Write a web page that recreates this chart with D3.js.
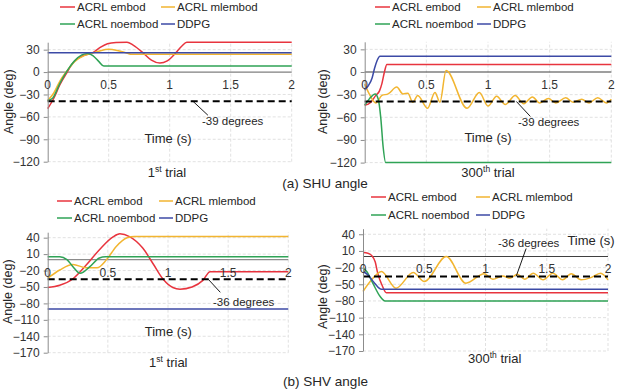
<!DOCTYPE html>
<meta charset="utf-8">
<style>
  body { margin: 0; background: #fff; }
  text { font-family: "Liberation Sans", Arial, sans-serif; fill: #262626; }
  .grid line { stroke: #d9d9d9; stroke-dasharray: 3,2; stroke-width: 0.8; }
  .yaxis path, .yaxis line { stroke: #8c8c8c; }
  .yaxis text { font-size: 12px; fill: #333; }
  .xlab { font-size: 12px; fill: #333; }
  .legend text { font-size: 11.5px; }
  .series { fill: none; stroke-width: 1.5; }
</style>
<body>
<script src="https://d3js.org/d3.v7.min.js"></script>
<script>
// series names / colours
var names  = ["ACRL embod", "ACRL mlembod", "ACRL noembod", "DDPG"];
var colors = ["#e8343e", "#f2b530", "#2fa356", "#3c4aa6"];

var xTicks   = [0, 0.5, 1, 1.5, 2];
var shuTicks = [-120, -90, -60, -30, 0, 30];
var shvTicks = [-170, -140, -110, -80, -50, -20, 10, 40];

// (a) SHU angle, 1st trial  [time, deg]
var shu1Embod   = [[0,-49],[0.05,-35],[0.1,-17],[0.16,0],[0.21,13],[0.29,22],[0.37,26],[0.43,33],[0.49,38],[0.56,39.6],[0.65,40],[0.7,36],[0.78,26],[0.85,16],[0.92,12],[0.98,15],[1.04,24],[1.1,35],[1.14,40],[2,40]];
var shu1Mlembod = [[0,-38],[0.05,-28],[0.1,-12],[0.16,2],[0.22,14],[0.3,22],[0.36,25],[0.42,28],[0.5,30.5],[0.57,29],[0.64,26],[0.68,24],[2,24]];
var shu1Noembod = [[0,-38],[0.04,-35],[0.1,-15],[0.16,2],[0.22,15],[0.28,23],[0.33,25],[0.37,22],[0.42,14],[0.46,8],[2,8]];
var shu1Ddpg    = [[0,26],[2,26]];

// (a) SHU angle, 300th trial
var shu300Embod   = [[0,-44],[0.05,-40],[0.09,-31],[0.12,-25],[0.14,-15],[0.16,0],[0.18,10],[2,10]];
var shu300Mlembod = [[0,-16],[0.04,-30],[0.09,-41],[0.14,-31],[0.19,-29],[0.26,-20],[0.31,-29],[0.35,-28],[0.39,-40],[0.43,-31],[0.51,-48],[0.57,-27],[0.61,-40],[0.66,2],[0.83,-48],[0.93,-27],[1.0,-45],[1.07,-32],[1.14,-43],[1.22,-31],[1.29,-42],[1.36,-33],[1.42,-41],[1.49,-35],[1.55,-41],[1.63,-34],[1.69,-40],[1.76,-36],[1.82,-41],[1.89,-34],[1.96,-41],[2,-36]];
var shu300Noembod = [[0,-44],[0.04,-35],[0.085,-29],[0.11,-36],[0.13,-60],[0.15,-100],[0.17,-120],[2,-120]];
var shu300Ddpg    = [[0,-24],[0.03,-18],[0.06,-8],[0.08,5],[0.1,15],[0.124,21],[2,21]];

// (b) SHV angle, 1st trial
var shv1Embod   = [[0,-51],[0.1,-47],[0.21,-35],[0.32,-10],[0.43,18],[0.54,41],[0.6,47],[0.68,42],[0.79,21],[0.88,-9],[0.96,-36],[1.04,-51],[1.1,-54],[1.2,-50],[1.29,-38],[1.35,-22],[2,-22]];
var shv1Mlembod = [[0,-34],[0.1,-19],[0.21,-9],[0.32,-15],[0.41,-15],[0.49,0],[0.57,24],[0.66,40],[0.72,42],[2,42]];
var shv1Noembod = [[0,5],[0.1,5],[0.16,0],[0.21,-13],[0.27,-25],[0.35,-13],[0.43,3],[0.48,5],[2,5]];
var shv1Ddpg    = [[0,-90],[2,-90]];

// (b) SHV angle, 300th trial
var shv300Embod   = [[0,7],[0.04,6],[0.07,2],[0.1,-10],[0.12,-30],[0.16,-54],[0.19,-65],[2,-65]];
var shv300Mlembod = [[0,-63],[0.07,-42],[0.15,-27],[0.27,-57],[0.41,-29],[0.5,-45],[0.68,0],[0.84,-48],[0.99,-31],[1.06,-41],[1.14,-35],[1.2,-39],[1.26,-32],[1.32,-41],[1.39,-30],[1.47,-42],[1.55,-30],[1.63,-42],[1.7,-31],[1.78,-42],[1.86,-38],[1.94,-30],[2,-42]];
var shv300Noembod = [[0,-21],[0.03,-27],[0.08,-48],[0.14,-72],[0.18,-80],[2,-80]];
var shv300Ddpg    = [[0,-27],[0.04,-33],[0.095,-48],[0.15,-59],[2,-59]];

var refShu = -39, refShv = -36;

const width = 618, height = 391;

const svg = d3.select("body").append("svg")
  .attr("width", width).attr("height", height);

var panels = [
  { xr: [47.7, 291.7], yr: [161.7, 42.2], dom: [-120, 40], ticks: shuTicks, ref: refShu,
    series: [shu1Embod, shu1Mlembod, shu1Noembod, shu1Ddpg], zeroCol: "#7f7f7f",
    leg: { c1: 60, c2: 161, c2end: 175, rows: [7, 24] },
    note: { t: 1.19, dx: 15, dy: 14, tx: 202, ty: 125 },
    ylab: [8.5, 101.7], time: [168, 142.5], trial: { x: 167, y: 177, n: "1", sup: "st" } },
  { xr: [364.7, 611.3], yr: [162.6, 41.8], dom: [-120, 40], ticks: shuTicks, ref: refShu,
    series: [shu300Embod, shu300Mlembod, shu300Noembod, shu300Ddpg], zeroCol: "#404040",
    leg: { c1: 375, c2: 477, c2end: 491, rows: [7, 24] },
    note: { t: 1.23, dx: 14, dy: 15, tx: 518, ty: 125.5 },
    ylab: [323, 101.7], time: [488, 142], trial: { x: 488, y: 177, n: "300", sup: "th" } },
  { xr: [47.7, 288.3], yr: [352.7, 232.2], dom: [-170, 50], ticks: shvTicks, ref: refShv,
    series: [shv1Embod, shv1Mlembod, shv1Noembod, shv1Ddpg], zeroCol: "#8c8c8c",
    leg: { c1: 57, c2: 159, c2end: 173, rows: [201, 218] },
    note: { t: 1.335, dx: 12, dy: 13, tx: 213, ty: 305.5 },
    ylab: [8, 291.7], time: [168.3, 336], trial: { x: 168.3, y: 367, n: "1", sup: "st" } },
  { xr: [363, 608], yr: [351, 228.7], dom: [-170, 50], ticks: shvTicks, ref: refShv,
    series: [shv300Embod, shv300Mlembod, shv300Noembod, shv300Ddpg], zeroCol: "#404040",
    leg: { c1: 371, c2: 476, c2end: 490, rows: [197, 215] },
    note: { t: 1.25, dx: 10, dy: -28, tx: 498, ty: 247 },
    ylab: [323, 296.7], time: [591, 244.5], trial: { x: 494.7, y: 362.5, n: "300", sup: "th" } }
];

panels.forEach(function(p) {
  var x = d3.scaleLinear().domain([0, 2]).range(p.xr);
  var y = d3.scaleLinear().domain(p.dom).range(p.yr);
  var g = svg.append("g");

  // gridlines
  var grid = g.append("g").attr("class", "grid");
  grid.selectAll(".h").data(p.ticks.filter(d => d !== 0)).enter().append("line")
    .attr("x1", x(0)).attr("x2", x(2))
    .attr("y1", d => y(d)).attr("y2", d => y(d));
  grid.selectAll(".v").data(xTicks.slice(1)).enter().append("line")
    .attr("x1", d => x(d)).attr("x2", d => x(d))
    .attr("y1", y(p.dom[0])).attr("y2", y(p.dom[1]));

  // zero line (acts as x axis)
  g.append("line")
    .attr("x1", x(0)).attr("x2", x(2)).attr("y1", y(0)).attr("y2", y(0))
    .attr("stroke", p.zeroCol).attr("stroke-width", 1.2);

  var line = d3.line().x(d => x(d[0])).y(d => y(d[1])).curve(d3.curveMonotoneX);

  g.selectAll(".series").data(p.series).enter().append("path")
    .attr("class", "series")
    .attr("stroke", (d, i) => colors[i])
    .attr("d", line);

  // reference dashed line
  g.append("line")
    .attr("x1", x(0)).attr("x2", x(2)).attr("y1", y(p.ref)).attr("y2", y(p.ref))
    .attr("stroke", "#000").attr("stroke-width", 2).attr("stroke-dasharray", "7,4");

  g.append("line")
    .attr("x1", x(p.note.t)).attr("y1", y(p.ref))
    .attr("x2", x(p.note.t) + p.note.dx).attr("y2", y(p.ref) + p.note.dy)
    .attr("stroke", "#000").attr("stroke-width", 0.9);
  g.append("text").attr("x", p.note.tx).attr("y", p.note.ty)
    .style("font-size", "11.5px").text(p.ref + " degrees");

  // y axis
  g.append("g").attr("class", "yaxis")
    .attr("transform", "translate(" + x(0) + ",0)")
    .call(d3.axisLeft(y).tickValues(p.ticks).tickSize(4).tickSizeOuter(0).tickPadding(4));

  // x tick labels sit under the zero line
  g.selectAll(".xlab").data(xTicks).enter().append("text")
    .attr("class", "xlab")
    .attr("x", d => x(d)).attr("y", y(0) + 17)
    .attr("text-anchor", "middle")
    .text(d => d);

  g.append("text")
    .attr("transform", "translate(" + (p.ylab[0] + 4) + "," + p.ylab[1] + ") rotate(-90)")
    .attr("text-anchor", "middle").style("font-size", "12.5px")
    .text("Angle (deg)");

  g.append("text").attr("x", p.time[0]).attr("y", p.time[1])
    .attr("text-anchor", "middle").style("font-size", "13px")
    .text("Time (s)");

  var tr = g.append("text").attr("x", p.trial.x).attr("y", p.trial.y)
    .attr("text-anchor", "middle").style("font-size", "13px");
  tr.append("tspan").text(p.trial.n);
  tr.append("tspan").attr("dy", -5).style("font-size", "8.5px").text(p.trial.sup);
  tr.append("tspan").attr("dy", 5).text(" trial");

  // legend
  var leg = g.append("g").attr("class", "legend");
  names.forEach(function(n, i) {
    var row = p.leg.rows[Math.floor(i / 2)];
    var x0 = i % 2 ? p.leg.c2 : p.leg.c1;
    var x1 = i % 2 ? p.leg.c2end : p.leg.c1 + 15;
    leg.append("line").attr("x1", x0).attr("x2", x1).attr("y1", row).attr("y2", row)
      .attr("stroke", colors[i]).attr("stroke-width", 1.5);
    leg.append("text").attr("x", x1 + 2).attr("y", row + 4).text(n);
  });
});

// captions
svg.append("text").attr("x", 325).attr("y", 187.5).attr("text-anchor", "middle")
  .style("font-size", "13.5px").text("(a) SHU angle");
svg.append("text").attr("x", 325.5).attr("y", 385.5).attr("text-anchor", "middle")
  .style("font-size", "13.5px").text("(b) SHV angle");
</script>
</body>
